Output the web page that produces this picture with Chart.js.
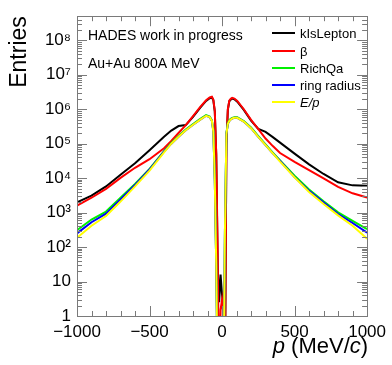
<!DOCTYPE html>
<html>
<head>
<meta charset="utf-8">
<script src="https://cdn.jsdelivr.net/npm/chart.js@4.4.1/dist/chart.umd.min.js"></script>
<style>
    html, body { margin: 0; padding: 0; background: #fff; }
</style>
</head>
<body>
<canvas id="momChart" width="392" height="365"></canvas>
<script>
// momentum bins (MeV/c)
var momenta = [-1000, -900, -800, -700, -600, -500, -400, -350, -300, -250, -200, -150, -110, -85, -70, -60, -50, -40, -30, -20, -10,
    0, 10, 20, 30, 40, 50, 60, 70, 85, 105, 150, 200, 250, 300, 350, 400, 500, 600, 700, 800, 900, 1000];

var kIsLepton = [2000, 3100, 5750, 12600, 26900, 64600, 158000, 240000, 324000, 347000, 600000, 1120000, 1740000, 2090000, 2190000, 1820000, 850000, 48000, 30, 2.5, 16,
    4, 2, 0.01, 95000, 955000, 1700000, 1900000, 2040000, 1950000, 1660000, 955000, 468000, 269000, 219000, 155000, 107000, 51300, 25100, 13200, 7600, 6170, 6030];

var beta = [1600, 2700, 4900, 10200, 20000, 35500, 74000, 120000, 204000, 347000, 631000, 1170000, 1820000, 2190000, 2290000, 1900000, 890000, 50000, 63, 0.01, 1.5,
    3, 1, 0.01, 100000, 1000000, 1780000, 2000000, 2140000, 2040000, 1740000, 1000000, 490000, 263000, 141000, 85100, 53700, 29500, 17000, 9800, 5600, 3630, 2750];

var richQa = [309, 631, 1070, 2690, 6760, 18600, 60300, 105000, 166000, 257000, 372000, 525000, 676000, 617000, 479000, 234000, 9000, 32, 0.01, 0.01, 0.01,
    0.01, 0.01, 316, 200000, 398000, 479000, 525000, 562000, 589000, 589000, 457000, 295000, 166000, 95500, 55000, 32400, 11700, 4680, 2140, 1020, 575, 331];

var ringRadius = [250, 525, 930, 2400, 6300, 17800, 58900, 100000, 158000, 245000, 355000, 501000, 646000, 589000, 457000, 224000, 8600, 30, 0.01, 0.01, 0.01,
    0.01, 0.01, 300, 191000, 380000, 457000, 501000, 537000, 562000, 562000, 437000, 282000, 158000, 91200, 52500, 31600, 10700, 4270, 1950, 910, 500, 263];

var eOverP = [186, 417, 794, 2090, 5750, 16600, 56200, 100000, 158000, 245000, 355000, 501000, 646000, 589000, 457000, 224000, 8600, 30, 0.01, 0.01, 0.01,
    0.01, 0.01, 300, 191000, 380000, 457000, 501000, 537000, 562000, 562000, 437000, 282000, 158000, 91200, 52500, 30200, 10500, 3980, 1780, 832, 417, 174];

var seriesNames = ['kIsLepton', 'β', 'RichQa', 'ring radius', 'E/p'];
var seriesColors = ['#000000', '#ff0000', '#00f000', '#0000ff', '#ffff00'];
var xTicks = [-1000, -500, 0, 500, 1000];
var yTicks = [1, 10, 100, 1000, 10000, 100000, 1000000, 10000000, 100000000];
var yTickLabels = ['1', '10', '10²', '10³', '10⁴', '10⁵', '10⁶', '10⁷', '10⁸'];

var FONT = "'Liberation Sans', Arial, Helvetica, sans-serif";

function toPoints(values) {
    return momenta.map(function(p, i) { return { x: p, y: values[i] }; });
}

// рамка и засечки в стиле ROOT
var frameTicks = {
    id: 'frameTicks',
    afterDatasetsDraw: function(chart) {
        var ctx = chart.ctx, a = chart.chartArea, x = chart.scales.x, y = chart.scales.y;
        ctx.save();
        ctx.strokeStyle = '#7a7a7a';
        ctx.lineWidth = 1;
        ctx.beginPath();
        for (var v = -1000; v <= 1000; v += 100) {
            var px = Math.round(x.getPixelForValue(v)) + 0.5;
            var len = (v % 500 === 0) ? 10 : 5;
            ctx.moveTo(px, a.bottom); ctx.lineTo(px, a.bottom - len);
            ctx.moveTo(px, a.top); ctx.lineTo(px, a.top + len);
        }
        for (var d = 0; d <= 8; d++) {
            for (var m = 1; m <= 9; m++) {
                var val = m * Math.pow(10, d);
                if (val > y.max) break;
                var py = Math.round(y.getPixelForValue(val)) + 0.5;
                var l = (m === 1) ? 10 : 5;
                ctx.moveTo(a.left, py); ctx.lineTo(a.left + l, py);
                ctx.moveTo(a.right, py); ctx.lineTo(a.right - l, py);
            }
        }
        ctx.stroke();
        ctx.strokeRect(Math.round(a.left) + 0.5, Math.round(a.top) + 0.5, Math.round(a.right - a.left), Math.round(a.bottom - a.top));
        ctx.restore();
    }
};

// подписи, легенда и заголовок оси X
var annotations = {
    id: 'annotations',
    afterDraw: function(chart) {
        var ctx = chart.ctx;
        ctx.save();
        ctx.fillStyle = '#000';
        ctx.textBaseline = 'alphabetic';
        ctx.font = '14px ' + FONT;
        ctx.fillText('HADES work in progress', 88, 40);
        ctx.fillText('Au+Au 800A MeV', 88, 68);

        ctx.font = '13px ' + FONT;
        var legendY = [33, 51, 68, 85, 102];
        for (var i = 0; i < seriesNames.length; i++) {
            ctx.strokeStyle = seriesColors[i];
            ctx.lineWidth = 2;
            ctx.beginPath();
            ctx.moveTo(272, legendY[i]);
            ctx.lineTo(295, legendY[i]);
            ctx.stroke();
            ctx.fillStyle = '#000';
            if (seriesNames[i] === 'E/p') {
                ctx.font = 'italic 13px ' + FONT;
            }
            ctx.fillText(seriesNames[i], 300, legendY[i] + 5);
            ctx.font = '13px ' + FONT;
        }

        // p (MeV/c) с курсивом
        var parts = [['p', true], [' (MeV/', false], ['c', true], [')', false]];
        var total = 0;
        parts.forEach(function(pt) {
            ctx.font = (pt[1] ? 'italic ' : '') + '22px ' + FONT;
            total += ctx.measureText(pt[0]).width;
        });
        var cx = chart.chartArea.right + 1 - total;
        parts.forEach(function(pt) {
            ctx.font = (pt[1] ? 'italic ' : '') + '22px ' + FONT;
            ctx.fillText(pt[0], cx, 353);
            cx += ctx.measureText(pt[0]).width;
        });
        ctx.restore();
    }
};

var seriesData = [kIsLepton, beta, richQa, ringRadius, eOverP];
var drawOrder = [4, 3, 2, 1, 0];

var ctx = document.getElementById('momChart').getContext('2d');
var momChart = new Chart(ctx, {
    type: 'line',
    data: {
        datasets: seriesData.map(function(values, i) {
            return {
                label: seriesNames[i],
                data: toPoints(values),
                borderColor: seriesColors[i],
                backgroundColor: seriesColors[i],
                borderWidth: 2,
                pointRadius: 0,
                tension: 0,
                fill: false,
                order: drawOrder[i]
            };
        })
    },
    options: {
        responsive: false,
        animation: false,
        devicePixelRatio: 1,
        layout: { padding: { left: 0, top: 13, right: 20, bottom: 0 } },
        plugins: { legend: { display: false }, tooltip: { enabled: false } },
        scales: {
            x: {
                type: 'linear',
                min: -1000,
                max: 1000,
                grid: { display: false, drawTicks: false },
                border: { display: false },
                afterBuildTicks: function(scale) {
                    scale.ticks = xTicks.map(function(v) { return { value: v }; });
                },
                afterFit: function(scale) { scale.height = 49; },
                ticks: {
                    autoSkip: false,
                    maxRotation: 0,
                    padding: 6,
                    color: '#000',
                    font: { family: FONT, size: 17 },
                    callback: function(v) { return v < 0 ? '\u2212' + Math.abs(v) : String(v); }
                }
            },
            y: {
                type: 'logarithmic',
                min: 1,
                max: 5e8,
                grid: { display: false, drawTicks: false },
                border: { display: false },
                afterBuildTicks: function(scale) {
                    scale.ticks = yTicks.map(function(v) { return { value: v }; });
                },
                afterFit: function(scale) { scale.width = 77; },
                ticks: {
                    autoSkip: false,
                    padding: 6,
                    color: '#000',
                    font: { family: FONT, size: 17 },
                    callback: function(v) {
                        var k = yTicks.indexOf(v);
                        return k >= 0 ? yTickLabels[k] : '';
                    }
                },
                title: {
                    display: true,
                    text: 'Entries',
                    align: 'end',
                    color: '#000',
                    padding: { top: 6, bottom: 0 },
                    font: { family: FONT, size: 23 }
                }
            }
        }
    },
    plugins: [frameTicks, annotations]
});
</script>
</body>
</html>
